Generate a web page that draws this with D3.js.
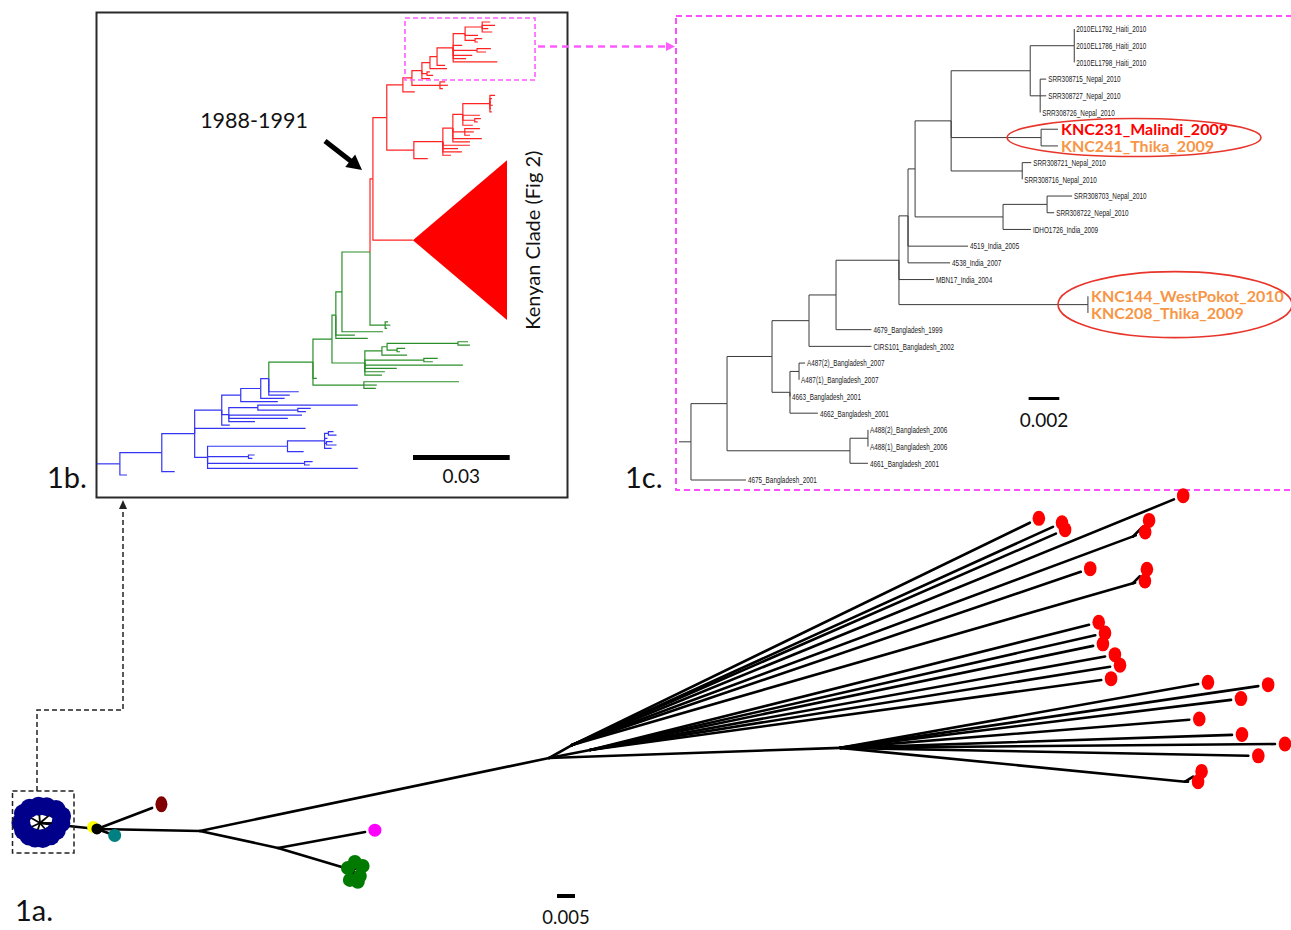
<!doctype html>
<html lang="en">
<head>
<meta charset="utf-8">
<title>Figure 1 - phylogeny panels</title>
<style>
html, body { margin: 0; padding: 0; background: #fff; }
svg { display: block; }
.lab { font-family: Lato, 'Open Sans', sans-serif; fill: #111; }
.tip { font-family: 'Liberation Sans Narrow', 'Liberation Sans', sans-serif; font-size: 9.5px; fill: #1a1a1a; }
.big { font-family: Lato, 'Open Sans', sans-serif; font-weight: 700; font-size: 16px; }
</style>
</head>
<body>
<div id="container"></div>
<script src="https://cdnjs.cloudflare.com/ajax/libs/d3/7.8.5/d3.min.js"></script>
<script>
(function (d3) {
'use strict';

/* DATA */

// 1a: unrooted tree, internal nodes [id, parent, branch length (subst./site), angle (deg)]
var nodes1a = [
  ['n1', 'c', 0.0159, -6.0],
  ['n2', 'n1', 0.0286, -1.1],
  ['n3', 'n2', 0.0222, -12.3],
  ['ng', 'n3', 0.0214, -16.6],
  ['n4', 'n2', 0.0991, 11.8],
  ['n5', 'n4', 0.0073, 29.5],
  ['n6', 'n4', 0.0116, 11.0],
  ['n7', 'n4', 0.0809, 2.0],
  ['pa', 'n5', 0.1663, 20.4],
  ['pb', 'n5', 0.1622, 16.1],
  ['pc', 'n7', 0.0963, -5.6]
];

// 1a: tips [parent, branch length, angle, lineage]
var tips1a = [
  ['c', 0.0033, 0, 'blue'], ['c', 0.0038, 18, 'blue'], ['c', 0.0033, 40, 'blue'],
  ['c', 0.0024, 68, 'blue'], ['c', 0.0022, 95, 'blue'], ['c', 0.0025, 125, 'blue'],
  ['c', 0.0028, 150, 'blue'], ['c', 0.0028, 180, 'blue'], ['c', 0.0025, 205, 'blue'],
  ['c', 0.0022, 230, 'blue'], ['c', 0.0019, 252, 'blue'], ['c', 0.0019, 280, 'blue'],
  ['c', 0.0021, 310, 'blue'], ['c', 0.0025, 335, 'blue'],
  ['n1', 0.0012, 153, 'yellow'], ['n1', 0, 0, 'black'], ['n1', 0.0033, -20, 'teal'],
  ['n1', 0.0164, 20.9, 'maroon'],
  ['n3', 0.0246, 10.4, 'magenta'],
  ['ng', 0.0024, 69, 'green'], ['ng', 0.0032, 20, 'green'], ['ng', 0.0028, -37, 'green'],
  ['ng', 0.0028, -101, 'green'], ['ng', 0.0037, -63, 'green'], ['ng', 0.0012, 153, 'green'],
  ['n5', 0.1414, 25.9, 'red'], ['n5', 0.1467, 24.4, 'red'], ['n5', 0.1467, 23.6, 'red'],
  ['n5', 0.1806, 22.2, 'red'], ['n5', 0.1493, 18.8, 'red'],
  ['pa', 0.0035, 45, 'red'], ['pa', 0.0008, 20, 'red'],
  ['pb', 0.0027, 45, 'red'], ['pb', 0.0006, 10, 'red'],
  ['n6', 0.1429, 14.1, 'red'], ['n6', 0.1439, 12.8, 'red'], ['n6', 0.1427, 11.7, 'red'],
  ['n6', 0.1454, 10.3, 'red'], ['n6', 0.1463, 9.1, 'red'], ['n6', 0.1433, 7.8, 'red'],
  ['n7', 0.1010, 10.1, 'red'], ['n7', 0.1174, 8.4, 'red'], ['n7', 0.1094, 7.0, 'red'],
  ['n7', 0.0973, 4.6, 'red'], ['n7', 0.1089, 1.9, 'red'], ['n7', 0.1208, 0.5, 'red'],
  ['n7', 0.1134, -1.1, 'red'],
  ['pc', 0.0026, 32, 'red'], ['pc', 0.0008, 0, 'red']
];

// 1b: rooted tree (newick). G = green lineage, R = red lineage, KENYA = collapsed clade
var tree1b = `
(
 (
  (
   (
    (
     (
      (
       (
        (
         (
          (
           (
            (
             (
              (
               (
                (
                 (
                  (
                   (
                    (
                     (:0.0025,:0.0040,:0.0019,:0.0031):0.0053,:0.0040,(:0.0022,:0.0009):0.0031
                    ):0.0037,:0.0028,(:0.0043,:0.0028):0.0074,:0.0059,:0.0040,:0.0137
                   ):0.0050,:0.0025
                  ):0.0022,:0.0053
                 ):0.0025,(:0.0009,:0.0019):0.0016,:0.0025
                ):0.0031,(:0.0016,:0.0025,:0.0009):0.0087
               ):0.0028,:0.0037
              ):0.0050,
              (
               (
                (
                 (
                  (:0.0016,:0.0006,:0.0003,:0.0009,:0.0003,:0.0006):0.0084,:0.0053,(:0.0019,:0.0009):0.0037,:0.0031
                 ):0.0031,(:0.0047,:0.0028,:0.0016):0.0037,:0.0090,:0.0053
                ):0.0031,:0.0084,:0.0047,:0.0059,:0.0025
               ):0.0090,:0.0043
              ):0.0084
             ):0.0043,KENYA:0.0124
            )R:0.0009,(:0.0009,:0.0016,:0.0006):0.0047
           ):0.0087,:0.0127
          ):0.0019,:0.0059,:0.0099
         ):0.0012,
         ((((:0.0031,:0.0037):0.0220,(:0.0025,:0.0009):0.0031):0.0016,:0.0078):0.0053,(:0.0043,:0.0028):0.0183,:0.0304,:0.0099,:0.0062,:0.0053):0.0102
        ):0.0059,:0.0012,(:0.0295,:0.0040,:0.0037):0.0158
       )G:0.0137,:0.0093,:0.0065
      ):0.0025,:0.0074
     ):0.0062,:0.0115
    ):0.0059,
    ((:0.0310,(:0.0040,:0.0025):0.0124):0.0090,:0.0227,:0.0183,:0.0081):0.0022,
    :0.0025
   ):0.0084,:0.0344,
   ((((:0.0016,:0.0025):0.0012,:0.0009,(:0.0019,:0.0031):0.0006,:0.0022):0.0115,:0.0050):0.0248,(:0.0019,:0.0012):0.0127,(:0.0025,:0.0016):0.0301,:0.0466):0.0040
  ):0.0102,:0.0040
 ):0.0130,:0.0022
):0.0071;`;

// 1b: collapsed clade [name, slots, depth (subst./site)]
var collapsed1b = [['KENYA', 48, 0.0292]];

// 1c: rooted tree (newick)
var tree1c = `
(
 (
  (
   (
    (
     (
      (
       (
        (
         (
          (
           ('2010EL1792_Haiti_2010':0,'2010EL1786_Haiti_2010':0,'2010EL1798_Haiti_2010':0):0.00287,
           ('SRR308715_Nepal_2010':0.00039,'SRR308727_Nepal_2010':0.00039,'SRR308726_Nepal_2010':0):0.00065
          ):0.00515,
          ('KNC231_Malindi_2009':0.0011,'KNC241_Thika_2009':0.0011):0.00586,
          ('SRR308721_Nepal_2010':0.00059,'SRR308716_Nepal_2010':0):0.00463
         ):0.00235,
         (('SRR308703_Nepal_2010':0.00163,'SRR308722_Nepal_2010':0.00046):0.00287,'IDHO1726_India_2009':0.00182):0.00573
        ):0.00046,
        '4519_India_2005':0.00391,'4538_India_2007':0.00274
       ):0.00059,
       'MBN17_India_2004':0.00228,
       ('KNC144_WestPokot_2010':0,'KNC208_Thika_2009':0):0.01231
      ):0.0041,
      '4679_Bangladesh_1999':0.00231
     ):0.00176,
     'CIRS101_Bangladesh_2002':0.00407
    ):0.00241,
    (('A487(2)_Bangladesh_2007':0.00039,'A487(1)_Bangladesh_2007':0):0.00059,'4663_Bangladesh_2001':0,'4662_Bangladesh_2001':0.00182):0.00117
   ):0.00293,
   (('A488(2)_Bangladesh_2006':0,'A488(1)_Bangladesh_2006':0):0.00117,'4661_Bangladesh_2001':0.00117):0.00801
  ):0.00235,
  '4675_Bangladesh_2001':0.00358
):0.00078;`;

// 1c: enlarged Kenyan tip labels
var highlightTips = ['KNC231_Malindi_2009', 'KNC241_Thika_2009', 'KNC144_WestPokot_2010', 'KNC208_Thika_2009'];
var highlightColors = ['#ff0000', '#f79646', '#f79646', '#f79646'];

// scale bars [panel, value]
var scaleBars = [['1a', 0.005], ['1b', 0.03], ['1c', 0.002]];

/* UTILS */

var parseNewick = function (str) {
  var s = str.replace(/\s+/g, ''), i = 0;
  var label = function () {
    var out = '';
    if (s[i] === "'") {
      i++;
      while (s[i] !== "'") { out += s[i++]; }
      i++;
      return out;
    }
    while (i < s.length && ',():;'.indexOf(s[i]) < 0) { out += s[i++]; }
    return out;
  };
  var node = function () {
    var n = {};
    if (s[i] === '(') {
      i++;
      n.children = [];
      do { n.children.push(node()); } while (s[i++] === ',');
    }
    n.name = label();
    n.length = 0;
    if (s[i] === ':') { i++; n.length = parseFloat(label()); }
    return n;
  };
  return node();
};

var layoutTree = function (data, slotOf) {
  var root = d3.hierarchy(data);
  root.eachBefore(function (d) {
    d.dist = (d.parent ? d.parent.dist : 0) + d.data.length;
  });
  var acc = 0;
  root.leaves().forEach(function (l) {
    var w = slotOf(l);
    l.slot = acc + w / 2;
    acc += w;
  });
  root.eachAfter(function (d) {
    if (d.children) {
      d.slot = (d.children[0].slot + d.children[d.children.length - 1].slot) / 2;
    }
  });
  root.slots = acc;
  return root;
};

var drawLinks = function (g, root, x, y, colorOf, width) {
  g.append('path')
    .attr('d', 'M' + x(0) + ',' + y(root.slot) + 'H' + x(root.dist))
    .attr('fill', 'none').attr('stroke', colorOf(root)).attr('stroke-width', width);
  g.selectAll('path.link')
    .data(root.descendants().slice(1))
    .enter().append('path')
    .attr('class', 'link')
    .attr('d', function (d) {
      return 'M' + x(d.parent.dist) + ',' + y(d.parent.slot) + 'V' + y(d.slot) + 'H' + x(d.dist);
    })
    .attr('fill', 'none')
    .attr('stroke', colorOf)
    .attr('stroke-width', width);
};

var arrowHead = function (x1, y1, x2, y2, len, half) {
  var a = Math.atan2(y2 - y1, x2 - x1);
  var bx = x2 - len * Math.cos(a), by = y2 - len * Math.sin(a);
  var px = -Math.sin(a) * half, py = Math.cos(a) * half;
  return 'M' + x2 + ',' + y2 + 'L' + (bx + px) + ',' + (by + py) + 'L' + (bx - px) + ',' + (by - py) + 'Z';
};

/* RENDER */

var W = 1291, H = 930;
var svg = d3.select('#container').append('svg').attr('width', W).attr('height', H);

/* ---- panel 1b ---- */
var g1b = svg.append('g');
g1b.append('rect').attr('x', 96.5).attr('y', 12.5).attr('width', 471).attr('height', 485)
  .attr('fill', 'none').attr('stroke', '#2a2a2a').attr('stroke-width', 2);

var collapsedMap = {};
collapsed1b.forEach(function (c) { collapsedMap[c[0]] = {slots: c[1], depth: c[2]}; });

var root1b = layoutTree(parseNewick(tree1b), function (l) {
  return collapsedMap[l.data.name] ? collapsedMap[l.data.name].slots : 1;
});
var x1b = d3.scaleLinear().domain([0, 0.03]).range([97, 193.7]);
var y1b = d3.scaleLinear().domain([0.5, root1b.slots - 0.5]).range([22, 475]);
var cladeColor = {G: '#2a8f2a', R: '#ff2424'};
var color1b = function (d) {
  for (var n = d; n; n = n.parent) {
    if (cladeColor[n.data.name]) { return cladeColor[n.data.name]; }
  }
  return '#3434f2';
};
drawLinks(g1b, root1b, x1b, y1b, color1b, 1.2);

root1b.leaves().filter(function (l) { return collapsedMap[l.data.name]; }).forEach(function (l) {
  var c = collapsedMap[l.data.name];
  g1b.append('path')
    .attr('d', 'M' + x1b(l.dist) + ',' + y1b(l.slot) +
      'L' + x1b(l.dist + c.depth) + ',' + y1b(l.slot - c.slots / 2) +
      'L' + x1b(l.dist + c.depth) + ',' + y1b(l.slot + c.slots / 2) + 'Z')
    .attr('fill', '#ff0000');
  g1b.append('text').attr('class', 'lab')
    .attr('transform', 'translate(' + (x1b(l.dist + c.depth) + 33) + ',' + y1b(l.slot) + ') rotate(-90)')
    .attr('text-anchor', 'middle').attr('font-size', 20)
    .text('Kenyan Clade (Fig 2)');
});

// magenta box around zoomed clade + arrow to 1c
g1b.append('rect').attr('x', 405).attr('y', 18).attr('width', 130).attr('height', 62)
  .attr('fill', 'none').attr('stroke', '#ff5cff').attr('stroke-width', 1.6).attr('stroke-dasharray', '5,3');
svg.append('path').attr('d', 'M538,46.5H666')
  .attr('stroke', '#ff5cff').attr('stroke-width', 2.5).attr('stroke-dasharray', '7,5');
svg.append('path').attr('d', arrowHead(538, 46.5, 675, 46.5, 9, 4.5)).attr('fill', '#ff5cff');

// date annotation + arrow
g1b.append('text').attr('class', 'lab').attr('x', 254).attr('y', 128)
  .attr('text-anchor', 'middle').attr('font-size', 21.5).text('1988-1991');
g1b.append('path').attr('d', 'M325,141L352,162').attr('stroke', '#000').attr('stroke-width', 5);
g1b.append('path').attr('d', arrowHead(325, 141, 362, 170, 15, 8)).attr('fill', '#000');

/* ---- panel 1c ---- */
var g1c = svg.append('g');
g1c.append('rect').attr('x', 676).attr('y', 16).attr('width', 640).attr('height', 474)
  .attr('fill', 'none').attr('stroke', '#ff4dff').attr('stroke-width', 2).attr('stroke-dasharray', '6,4');

var root1c = layoutTree(parseNewick(tree1c), function () { return 1; });
var x1c = d3.scaleLinear().domain([0, 0.002]).range([679, 709.7]);
var y1c = d3.scaleLinear().domain([0.5, root1c.slots - 0.5]).range([29, 480]);
drawLinks(g1c, root1c, x1c, y1c, function () { return '#3a3a3a'; }, 1);

var leaves1c = root1c.leaves();
g1c.selectAll('text.tip')
  .data(leaves1c.filter(function (l) { return highlightTips.indexOf(l.data.name) < 0; }))
  .enter().append('text')
  .attr('class', 'tip')
  .attr('transform', function (d) { return 'translate(' + (x1c(d.dist) + 2) + ',' + y1c(d.slot) + ') scale(0.67,1)'; })
  .attr('dy', '0.35em')
  .text(function (d) { return d.data.name; });

var hl = leaves1c.filter(function (l) { return highlightTips.indexOf(l.data.name) >= 0; });
g1c.selectAll('text.big')
  .data(hl)
  .enter().append('text')
  .attr('class', 'big')
  .attr('x', function (d) { return x1c(d.dist) + 3; })
  .attr('y', function (d) { return y1c(d.slot); })
  .attr('dy', '0.35em')
  .attr('fill', function (d) { return highlightColors[highlightTips.indexOf(d.data.name)]; })
  .text(function (d) { return d.data.name; });

// ellipses round the Kenyan pairs
var pairMid = function (a, b) {
  var la = hl.filter(function (l) { return l.data.name === a; })[0];
  var lb = hl.filter(function (l) { return l.data.name === b; })[0];
  return (y1c(la.slot) + y1c(lb.slot)) / 2;
};
g1c.append('ellipse').attr('cx', 1134).attr('cy', pairMid(highlightTips[0], highlightTips[1]))
  .attr('rx', 127).attr('ry', 19).attr('fill', 'none').attr('stroke', '#e8352b').attr('stroke-width', 1.6);
g1c.append('ellipse').attr('cx', 1175).attr('cy', pairMid(highlightTips[2], highlightTips[3]))
  .attr('rx', 117).attr('ry', 33).attr('fill', 'none').attr('stroke', '#e8352b').attr('stroke-width', 1.6);

/* ---- panel 1a ---- */
var g1a = svg.append('g');
var xa = d3.scaleLinear().domain([0, 0.005]).range([40, 58]);
var ya = d3.scaleLinear().domain([0, 0.005]).range([823, 805]);

var pos = {c: {u: 0, v: 0}};
nodes1a.forEach(function (n) {
  var p = pos[n[1]], a = n[3] * Math.PI / 180;
  pos[n[0]] = {u: p.u + n[2] * Math.cos(a), v: p.v + n[2] * Math.sin(a)};
});
var tipPos = tips1a.map(function (t) {
  var p = pos[t[0]], a = t[2] * Math.PI / 180;
  return {from: p, u: p.u + t[1] * Math.cos(a), v: p.v + t[1] * Math.sin(a), a: a, group: t[3]};
});

var branches = nodes1a.map(function (n) { return {from: pos[n[1]], to: pos[n[0]]}; })
  .concat(tipPos.filter(function (t) { return t.group !== 'black' && t.group !== 'blue'; })
    .map(function (t) { return {from: t.from, to: t}; }));

g1a.selectAll('line.br')
  .data(branches)
  .enter().append('line')
  .attr('class', 'br')
  .attr('x1', function (d) { return xa(d.from.u); })
  .attr('y1', function (d) { return ya(d.from.v); })
  .attr('x2', function (d) { return xa(d.to.u); })
  .attr('y2', function (d) { return ya(d.to.v); })
  .attr('stroke', '#000').attr('stroke-width', 2.6).attr('stroke-linecap', 'round');

var dotStyle = {
  blue: {fill: '#00008b', rx: 9.5, ry: 9.5, off: 9},
  yellow: {fill: '#ffff00', rx: 6, ry: 6, off: 0},
  black: {fill: '#000000', rx: 5.5, ry: 5.5, off: 0},
  teal: {fill: '#008080', rx: 6.5, ry: 6.5, off: 7},
  maroon: {fill: '#800000', rx: 6, ry: 8, off: 10},
  magenta: {fill: '#ff00ff', rx: 6.5, ry: 6.5, off: 10},
  green: {fill: '#007a00', rx: 7, ry: 7, off: 0},
  red: {fill: '#ff0000', rx: 6.3, ry: 7.5, off: 10}
};
g1a.selectAll('ellipse.dot')
  .data(tipPos)
  .enter().append('ellipse')
  .attr('class', 'dot')
  .attr('cx', function (d) { return xa(d.u) + dotStyle[d.group].off * Math.cos(d.a); })
  .attr('cy', function (d) { return ya(d.v) - dotStyle[d.group].off * Math.sin(d.a); })
  .attr('rx', function (d) { return dotStyle[d.group].rx; })
  .attr('ry', function (d) { return dotStyle[d.group].ry; })
  .attr('fill', function (d) { return dotStyle[d.group].fill; });

// short star of the blue cluster, visible in the hole between the dots
g1a.selectAll('line.star')
  .data(tipPos.filter(function (t, i) { return t.group === 'blue' && i % 2 === 0; }))
  .enter().append('line')
  .attr('class', 'star')
  .attr('x1', xa(0)).attr('y1', ya(0))
  .attr('x2', function (d) { return xa(d.u); })
  .attr('y2', function (d) { return ya(d.v); })
  .attr('stroke', '#000').attr('stroke-width', 1.8);

// dashed box + connector to 1b
svg.append('rect').attr('x', 12.5).attr('y', 791).attr('width', 61.5).attr('height', 62)
  .attr('fill', 'none').attr('stroke', '#222').attr('stroke-width', 1.5).attr('stroke-dasharray', '5,3');
svg.append('path').attr('d', 'M37,791V710H123V508')
  .attr('fill', 'none').attr('stroke', '#222').attr('stroke-width', 1.5).attr('stroke-dasharray', '5,3');
svg.append('path').attr('d', arrowHead(123, 520, 123, 500, 9, 4)).attr('fill', '#222');

/* ---- scale bars ---- */
var barSpec = {
  '1a': {scale: xa, x: 557, y: 894, h: 4, ty: 924, fs: 18.5},
  '1b': {scale: x1b, x: 413, y: 455, h: 5, ty: 483, fs: 19},
  '1c': {scale: x1c, x: 1028.6, y: 397, h: 3, ty: 427, fs: 19}
};
scaleBars.forEach(function (b) {
  var s = barSpec[b[0]];
  var w = s.scale(b[1]) - s.scale(0);
  svg.append('rect').attr('x', s.x).attr('y', s.y).attr('width', w).attr('height', s.h).attr('fill', '#000');
  svg.append('text').attr('class', 'lab').attr('x', s.x + w / 2).attr('y', s.ty)
    .attr('text-anchor', 'middle').attr('font-size', s.fs).text(String(b[1]));
});

/* ---- panel labels ---- */
[['1b.', 47, 488], ['1c.', 625, 488], ['1a.', 15, 921]].forEach(function (p) {
  svg.append('text').attr('class', 'lab').attr('x', p[1]).attr('y', p[2])
    .attr('font-size', 29).text(p[0]);
});

})(window.d3);
</script>
</body>
</html>
